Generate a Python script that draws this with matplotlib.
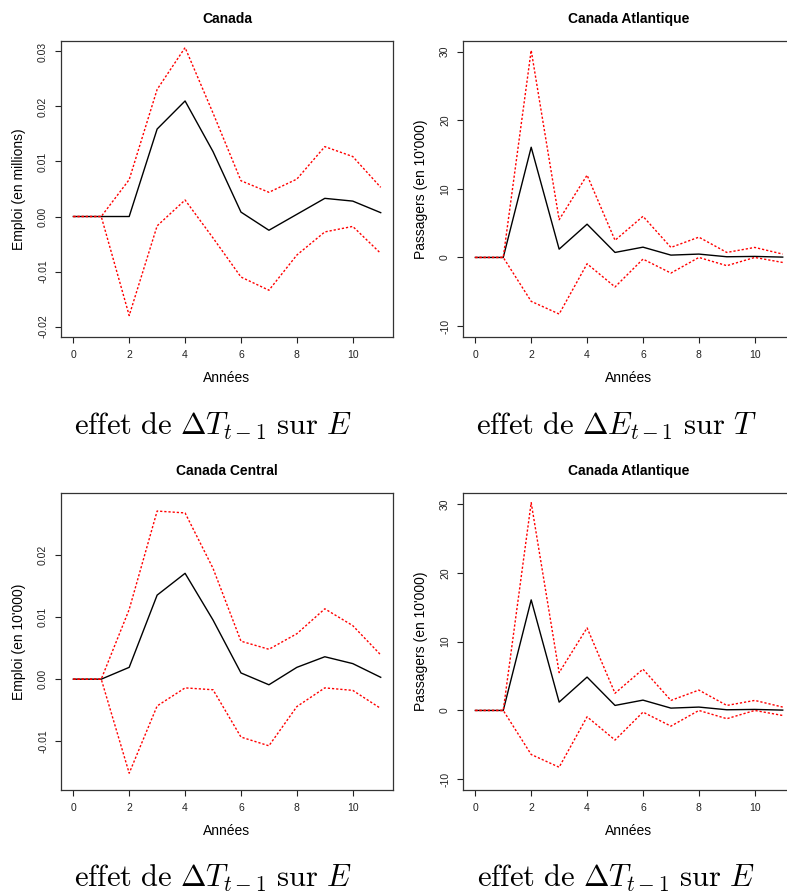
import numpy as np
import matplotlib
matplotlib.use("Agg")
import matplotlib.pyplot as plt

plt.rcParams['font.family'] = ['Liberation Sans', 'DejaVu Sans']
plt.rcParams['mathtext.fontset'] = 'cm'

# horizon (years)
years = np.arange(12)

# Canada: effect of dT on E (emploi en millions)
can_irf = [0, 0, 0, 0.0159, 0.0210, 0.0118, 0.0008, -0.0025, 0.0004, 0.0033, 0.0028, 0.0007]
can_up = [0, 0, 0.0067, 0.0231, 0.0307, 0.0188, 0.0065, 0.0044, 0.0068, 0.0127, 0.0109, 0.0053]
can_lo = [0, 0, -0.0180, -0.0017, 0.0030, -0.0039, -0.0110, -0.0134, -0.0070, -0.0028, -0.0018, -0.0067]

# Canada Atlantique: passagers (en 10'000)
atl_irf = [0, 0, 16.07, 1.21, 4.85, 0.73, 1.50, 0.34, 0.49, 0.10, 0.15, 0.05]
atl_up = [0, 0, 30.2, 5.5, 12.0, 2.5, 6.0, 1.46, 2.96, 0.73, 1.46, 0.49]
atl_lo = [0, 0, -6.4, -8.25, -0.92, -4.3, -0.24, -2.28, 0.0, -1.2, 0.0, -0.73]

# Canada Central: emploi (en 10'000)
cen_irf = [0, 0, 0.0019, 0.0135, 0.0170, 0.0095, 0.0010, -0.0009, 0.0019, 0.0036, 0.0025, 0.0003]
cen_up = [0, 0, 0.0112, 0.0270, 0.0267, 0.0178, 0.0061, 0.0048, 0.0073, 0.0113, 0.0086, 0.0039]
cen_lo = [0, 0, -0.0151, -0.0043, -0.0014, -0.0017, -0.0093, -0.0107, -0.0044, -0.0014, -0.0018, -0.0047]

W, H = 787, 894
fig = plt.figure(figsize=(W / 100, H / 100), dpi=100)

def px_axes(left, top, right, bottom):
    return fig.add_axes([left / W, 1 - bottom / H, (right - left) / W, (bottom - top) / H])

panels = [
    # (box in px, title, ylabel, data, ylim, yticks, yticklabels, caption, caption pos)
    ((61, 41, 393, 337), 'Canada', 'Emploi (en millions)',
     (can_irf, can_up, can_lo), (-0.0219, 0.0319),
     [-0.02, -0.01, 0.0, 0.01, 0.02, 0.03], ['-0.02', '-0.01', '0.00', '0.01', '0.02', '0.03'],
     r'$\mathrm{effet\ de\ }\Delta T_{t-1}\mathrm{\ sur\ }E$', (74, 435)),
    ((463, 41, 795, 337), 'Canada Atlantique', "Passagers (en 10'000)",
     (atl_irf, atl_up, atl_lo), (-11.6, 31.56),
     [-10, 0, 10, 20, 30], ['-10', '0', '10', '20', '30'],
     r'$\mathrm{effet\ de\ }\Delta E_{t-1}\mathrm{\ sur\ }T$', (476, 435)),
    ((61, 493, 393, 790), 'Canada Central', "Emploi (en 10'000)",
     (cen_irf, cen_up, cen_lo), (-0.0178, 0.0299),
     [-0.01, 0.0, 0.01, 0.02], ['-0.01', '0.00', '0.01', '0.02'],
     r'$\mathrm{effet\ de\ }\Delta T_{t-1}\mathrm{\ sur\ }E$', (74, 887)),
    ((463, 493, 795, 790), 'Canada Atlantique', "Passagers (en 10'000)",
     (atl_irf, atl_up, atl_lo), (-11.56, 31.6),
     [-10, 0, 10, 20, 30], ['-10', '0', '10', '20', '30'],
     r'$\mathrm{effet\ de\ }\Delta T_{t-1}\mathrm{\ sur\ }E$', (477, 887)),
]

for box, title, ylab, (irf, up, lo), ylim, yt, ytl, cap, cpos in panels:
    ax = px_axes(*box)
    ax.plot(years, irf, color='black', lw=1.0)
    ax.plot(years, up, color='red', lw=1.0, ls=(0, (1.6, 1.4)))
    ax.plot(years, lo, color='red', lw=1.0, ls=(0, (1.6, 1.4)))
    ax.set_xlim(-0.44, 11.44)
    ax.set_ylim(*ylim)
    ax.set_xticks([0, 2, 4, 6, 8, 10])
    ax.set_yticks(yt)
    ax.set_yticklabels(ytl, rotation=90, va='center')
    ax.tick_params(labelsize=7.5, length=4.3, width=0.8, pad=5, colors='#222222')
    for s in ax.spines.values():
        s.set_linewidth(0.9)
        s.set_color('#333333')
    ax.set_title(title, fontsize=10, fontweight='bold', pad=13)
    ax.set_xlabel('Années', fontsize=10, labelpad=8)
    ax.set_ylabel(ylab, fontsize=10, labelpad=9)
    fig.text(cpos[0] / W, 1 - cpos[1] / H, cap, fontsize=22, ha='left', va='baseline')

fig.savefig('out.png', dpi=100)
